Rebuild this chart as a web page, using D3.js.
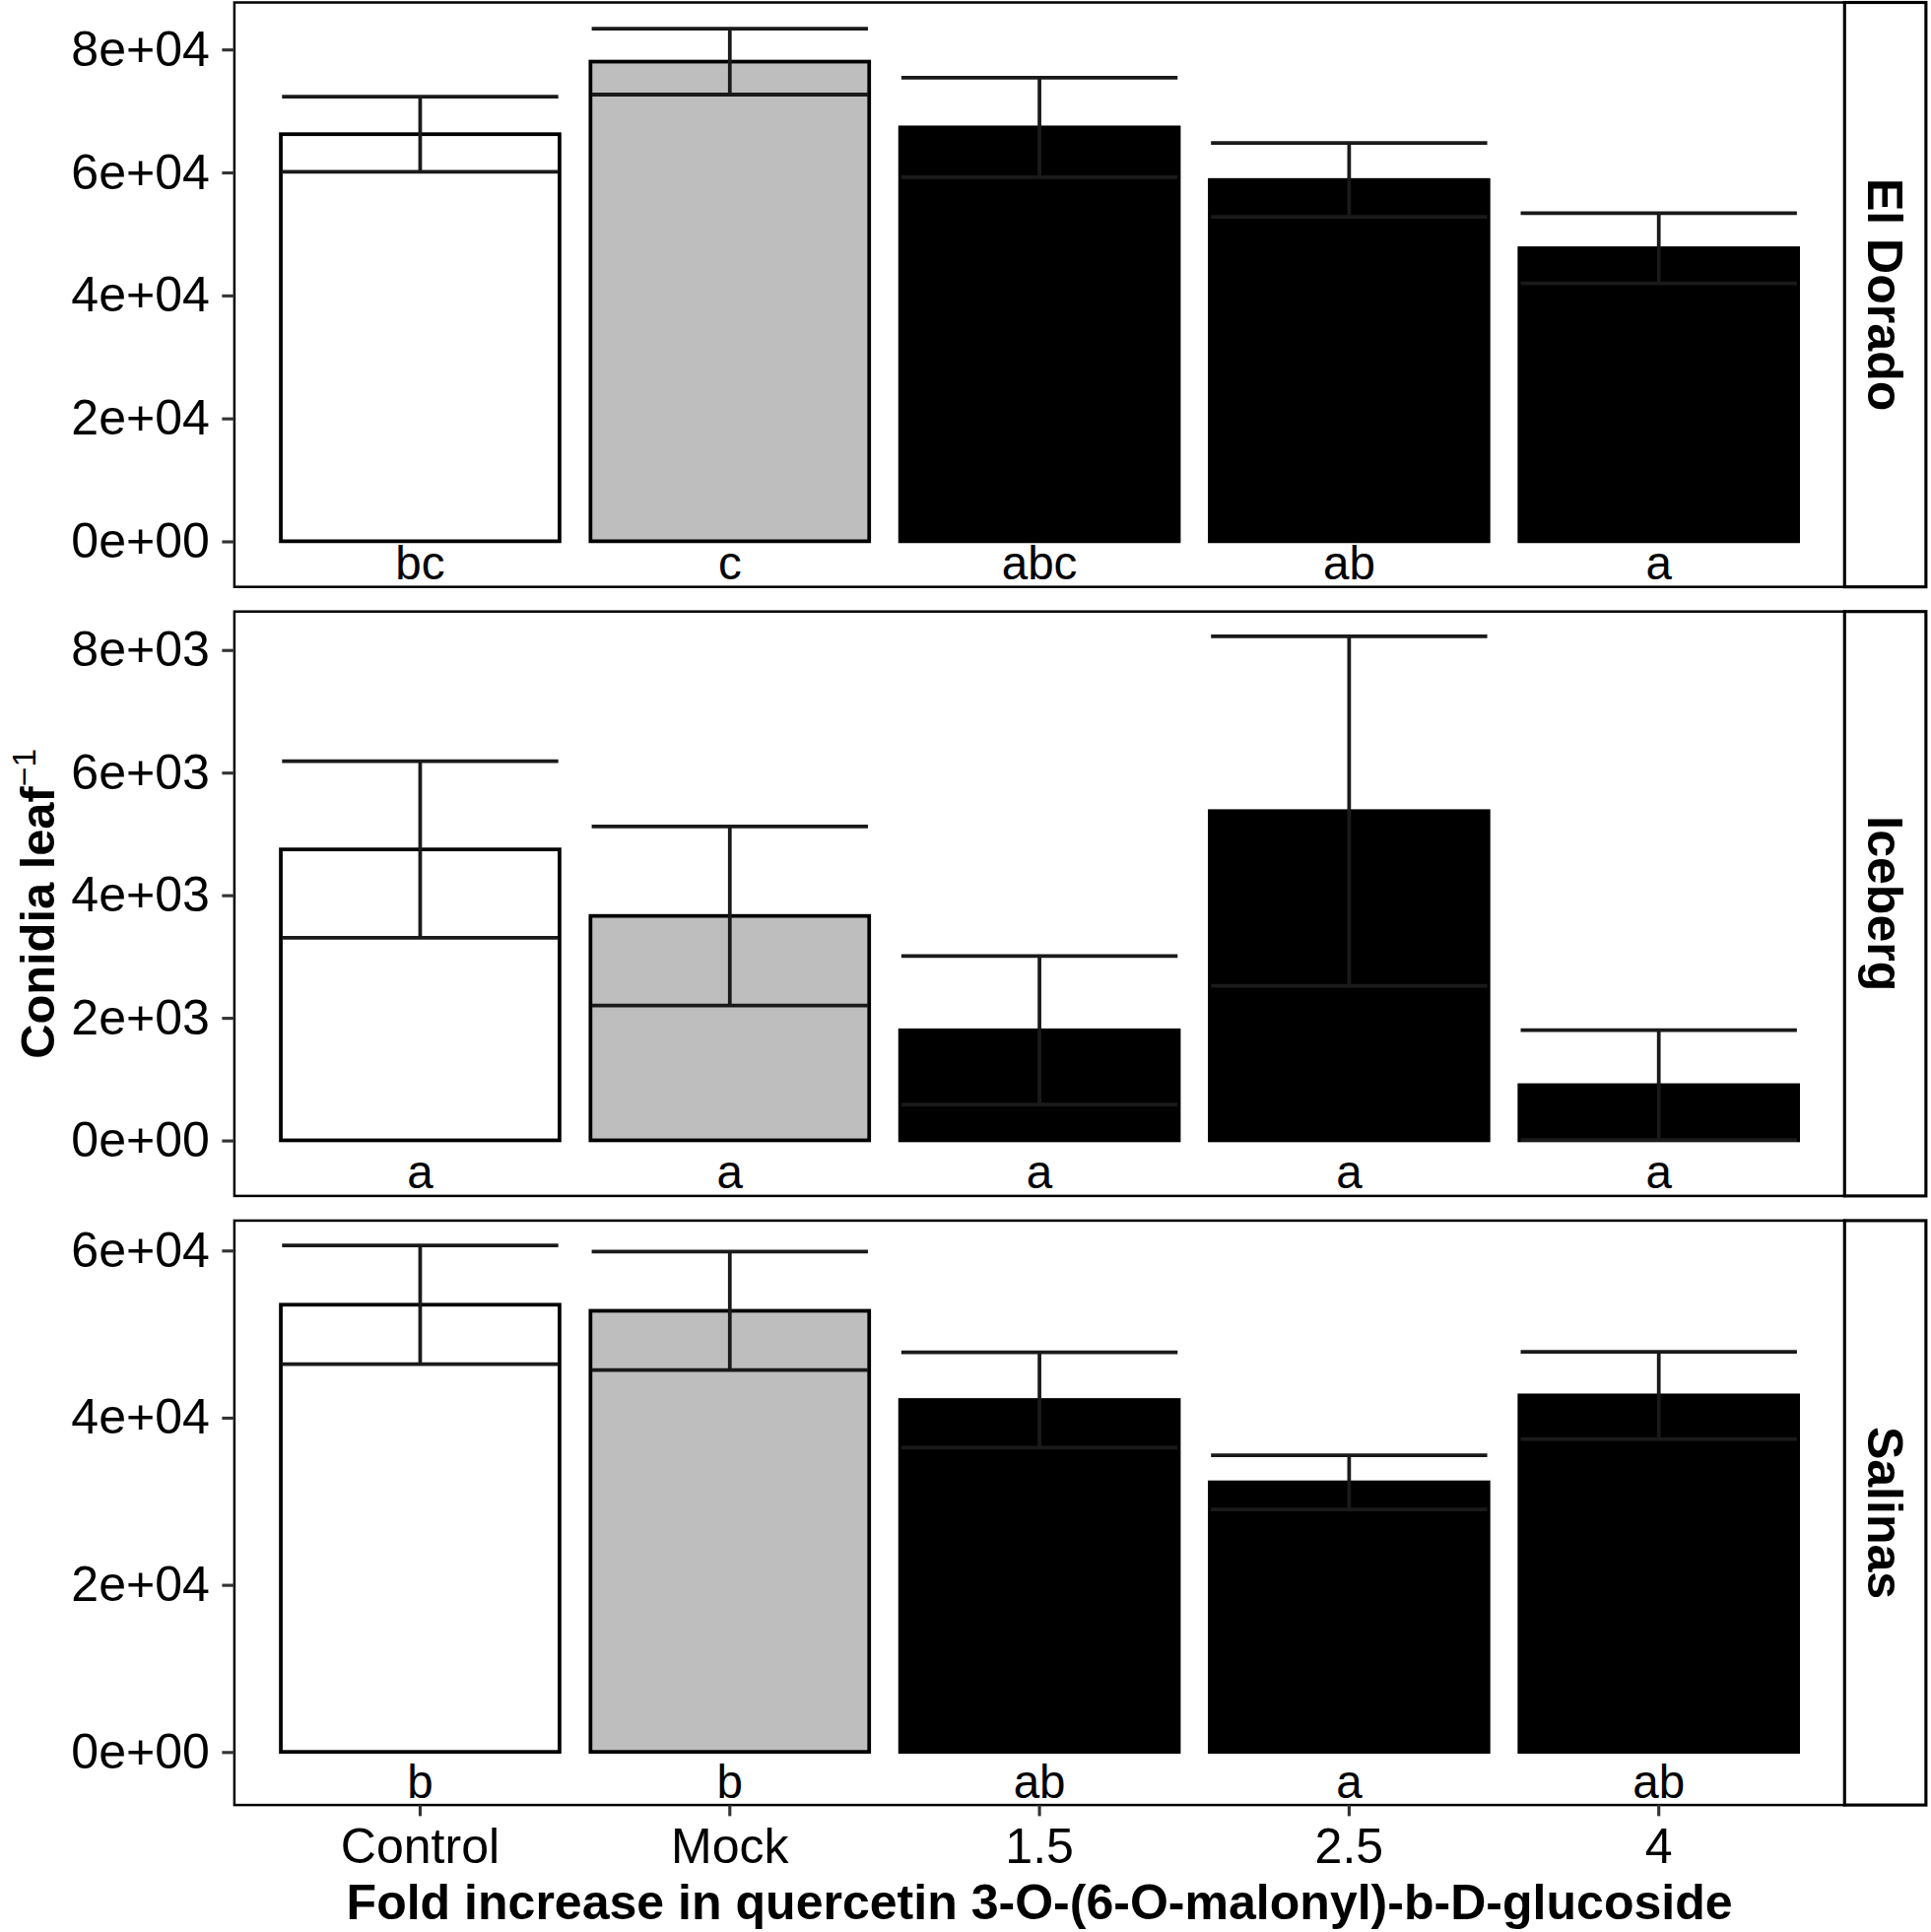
<!DOCTYPE html>
<html>
<head>
<meta charset="utf-8">
<script src="https://cdnjs.cloudflare.com/ajax/libs/d3/7.8.5/d3.min.js"></script>
<style>
  body { margin: 0; background: #fff; }
  text { font-family: "Liberation Sans", Arial, sans-serif; }
</style>
</head>
<body>
<div id="chart"></div>
<script>
var categories = ["Control", "Mock", "1.5", "2.5", "4"];
var cultivars = ["El Dorado", "Iceberg", "Salinas"];
var fills = ["#ffffff", "#bebebe", "#000000", "#000000", "#000000"];

var el_dorado_mean = [66200, 78000, 67300, 58750, 47650];
var el_dorado_se = [6100, 5360, 8100, 6000, 5700];
var el_dorado_letters = ["bc", "c", "abc", "ab", "a"];

var iceberg_mean = [4745, 3660, 1795, 5370, 900];
var iceberg_se = [1440, 1460, 1210, 2850, 895];
var iceberg_letters = ["a", "a", "a", "a", "a"];

var salinas_mean = [53500, 52770, 42100, 32250, 42650];
var salinas_se = [7100, 7100, 5690, 3250, 5220];
var salinas_letters = ["b", "b", "ab", "a", "ab"];

var el_dorado_ticks = [0, 20000, 40000, 60000, 80000];
var iceberg_ticks = [0, 2000, 4000, 6000, 8000];
var salinas_ticks = [0, 20000, 40000, 60000];

var panels = [
  { name: cultivars[0], mean: el_dorado_mean, se: el_dorado_se, letters: el_dorado_letters, ticks: el_dorado_ticks, domain: [-7420, 87620] },
  { name: cultivars[1], mean: iceberg_mean, se: iceberg_se, letters: iceberg_letters, ticks: iceberg_ticks, domain: [-907, 8625] },
  { name: cultivars[2], mean: salinas_mean, se: salinas_se, letters: salinas_letters, ticks: salinas_ticks, domain: [-6356, 63563] }
];

// layout in a 1566 wide frame, scaled up by the viewBox
var left = 190, right = 1496, strip_right = 1562;
var panel_tops = [2, 496, 990];
var panel_height = 474;

var svg = d3.select('#chart')
            .append('svg')
            .attr('width', 1960)
            .attr('height', 1961)
            .attr('viewBox', '0 0 1566 1567');

var x_scale = d3.scaleBand()
                .domain(categories)
                .range([left, right])
                .paddingInner(0.1)
                .paddingOuter(0.15);

// ggplot style scientific labels, e.g. 8e+04
function sci(v) {
  if (v === 0) return '0e+00';
  var e = Math.floor(Math.log10(Math.abs(v)));
  var m = Math.round(v / Math.pow(10, e));
  return m + 'e' + (e < 0 ? '-' : '+') + (Math.abs(e) < 10 ? '0' : '') + Math.abs(e);
}

panels.forEach(function(p, k) {
  var top = panel_tops[k];
  var bottom = top + panel_height;

  var y_scale = d3.scaleLinear()
                  .domain(p.domain)
                  .range([bottom, top]);

  var g = svg.append('g');

  // bars
  g.selectAll('rect.bar')
   .data(categories)
   .enter()
   .append('rect')
   .attr('class', 'bar')
   .attr('x', function(d) { return x_scale(d); })
   .attr('width', x_scale.bandwidth())
   .attr('y', function(d, i) { return y_scale(p.mean[i]); })
   .attr('height', function(d, i) { return y_scale(0) - y_scale(p.mean[i]); })
   .attr('fill', function(d, i) { return fills[i]; })
   .attr('stroke', '#000')
   .attr('stroke-width', 3);

  // error bars
  var eb = g.selectAll('g.err')
            .data(categories)
            .enter()
            .append('g')
            .attr('class', 'err')
            .attr('stroke', '#1a1a1a')
            .attr('stroke-width', 3);

  eb.append('line')
    .attr('x1', function(d) { return x_scale(d) + x_scale.bandwidth() / 2; })
    .attr('x2', function(d) { return x_scale(d) + x_scale.bandwidth() / 2; })
    .attr('y1', function(d, i) { return y_scale(p.mean[i] - p.se[i]); })
    .attr('y2', function(d, i) { return y_scale(p.mean[i] + p.se[i]); });

  [1, -1].forEach(function(s) {
    eb.append('line')
      .attr('x1', function(d) { return x_scale(d) + 1; })
      .attr('x2', function(d) { return x_scale(d) + x_scale.bandwidth() - 1; })
      .attr('y1', function(d, i) { return y_scale(p.mean[i] + s * p.se[i]); })
      .attr('y2', function(d, i) { return y_scale(p.mean[i] + s * p.se[i]); });
  });

  // significance letters
  g.selectAll('text.letter')
   .data(categories)
   .enter()
   .append('text')
   .attr('class', 'letter')
   .text(function(d, i) { return p.letters[i]; })
   .attr('x', function(d) { return x_scale(d) + x_scale.bandwidth() / 2; })
   .attr('y', bottom - 6)
   .attr('text-anchor', 'middle')
   .style('font-size', '38px');

  // panel border
  g.append('rect')
   .attr('x', left).attr('y', top)
   .attr('width', right - left).attr('height', panel_height)
   .attr('fill', 'none').attr('stroke', '#000').attr('stroke-width', 2);

  // strip
  g.append('rect')
   .attr('x', right).attr('y', top)
   .attr('width', strip_right - right).attr('height', panel_height)
   .attr('fill', '#fff').attr('stroke', '#000').attr('stroke-width', 2.5);

  g.append('text')
   .text(p.name)
   .attr('transform', 'translate(' + ((right + strip_right) / 2) + ',' + (top + panel_height / 2) + ') rotate(90)')
   .attr('dy', '0.36em')
   .attr('text-anchor', 'middle')
   .style('font-size', '40px')
   .style('font-weight', 'bold');

  // y axis
  var ya = g.append('g')
            .attr('transform', 'translate(' + left + ',0)')
            .call(d3.axisLeft(y_scale)
                    .tickValues(p.ticks)
                    .tickFormat(sci)
                    .tickSize(10)
                    .tickPadding(10));
  ya.select('.domain').remove();
  ya.selectAll('line').attr('stroke', '#333').attr('stroke-width', 2.5);
  ya.selectAll('text').style('font-size', '40px').attr('fill', '#000');

  if (k === panels.length - 1) {
    var xa = g.append('g')
              .attr('transform', 'translate(0,' + bottom + ')')
              .call(d3.axisBottom(x_scale).tickSize(9).tickPadding(10));
    xa.select('.domain').remove();
    xa.selectAll('line').attr('stroke', '#333').attr('stroke-width', 2.5);
    xa.selectAll('text').style('font-size', '40px').attr('fill', '#000');
  }
});

// axis titles
svg.append('text')
   .text('Fold increase in quercetin 3-O-(6-O-malonyl)-b-D-glucoside')
   .attr('x', (left + right) / 2)
   .attr('y', 1557)
   .attr('text-anchor', 'middle')
   .style('font-size', '40px')
   .style('font-weight', 'bold');

var yt = svg.append('text')
            .attr('transform', 'translate(30,' + ((panel_tops[0] + panel_tops[2] + panel_height) / 2) + ') rotate(-90)')
            .attr('dy', '0.36em')
            .attr('text-anchor', 'middle')
            .style('font-size', '39px')
            .style('font-weight', 'bold');
yt.append('tspan').text('Conidia leaf');
yt.append('tspan')
  .text('\u22121')
  .attr('baseline-shift', 'super')
  .style('font-size', '27px')
  .style('font-weight', 'normal');
</script>
</body>
</html>
